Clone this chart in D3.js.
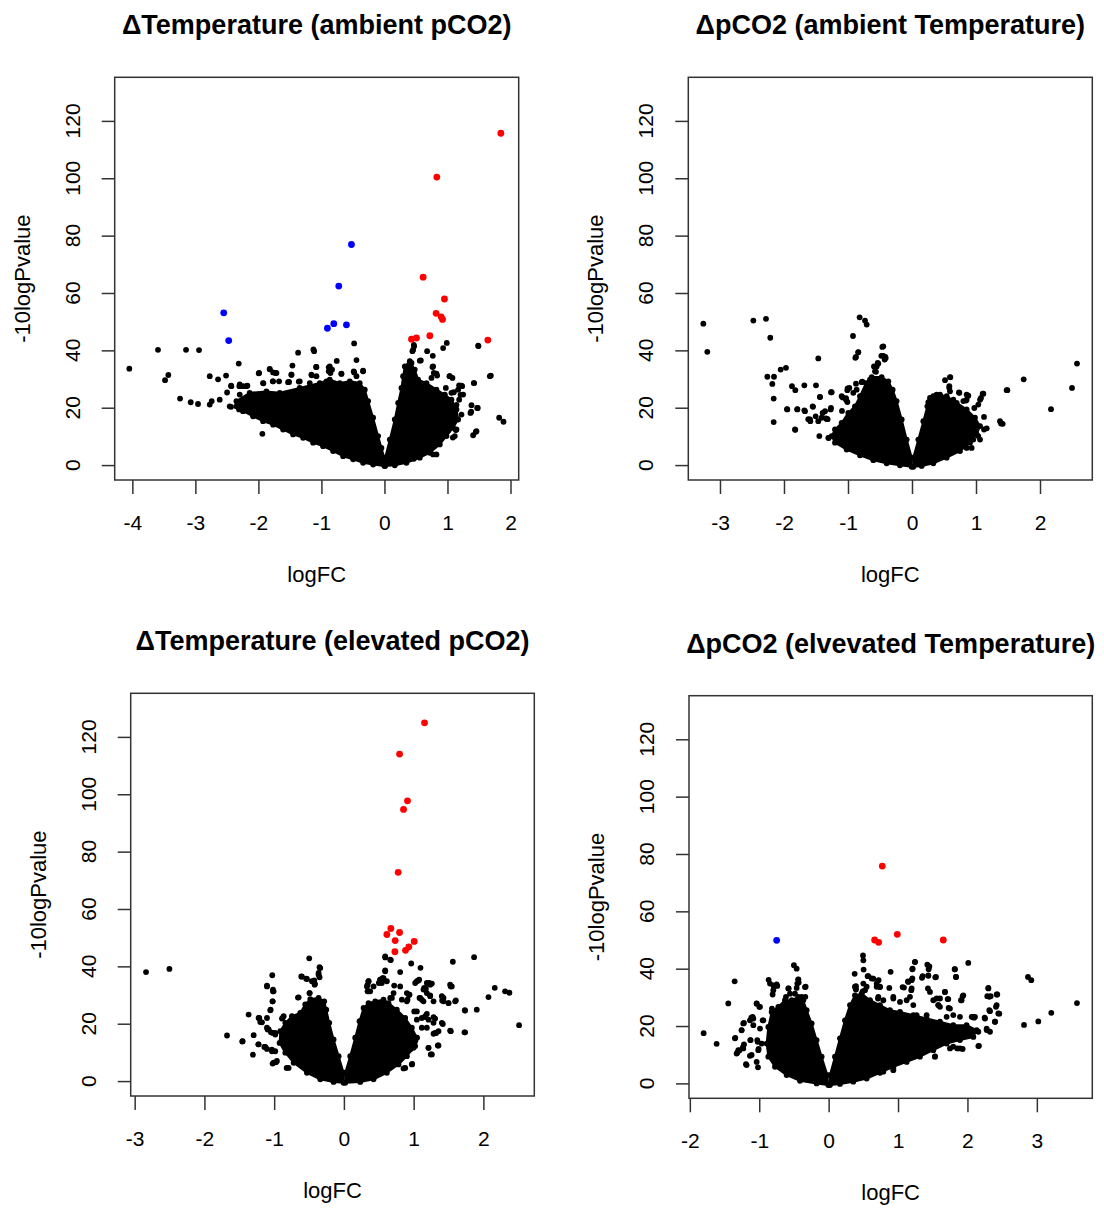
<!DOCTYPE html>
<html><head><meta charset="utf-8">
<script src="https://cdn.jsdelivr.net/npm/d3@7"></script>
<style>
body{margin:0;background:#fff}
svg{display:block}
text{font-family:"Liberation Sans",Arial,Helvetica,sans-serif;fill:#000}
</style>
</head><body>
<svg id="chart" width="1104" height="1209"></svg>
<script>
// ---------------- DATA ----------------
const titles = ["\u0394Temperature (ambient pCO2)", "\u0394pCO2 (ambient Temperature)",
                "\u0394Temperature (elevated pCO2)", "\u0394pCO2 (elvevated Temperature)"];
const xLabel = "logFC";
const yLabel = "-10logPvalue";
const xTicks1 = [-4,-3,-2,-1,0,1,2];
const xTicks2 = [-3,-2,-1,0,1,2];
const xTicks3 = [-3,-2,-1,0,1,2];
const xTicks4 = [-2,-1,0,1,2,3];
const yTicks = [0,20,40,60,80,100,120];

// Panel 1: ΔTemperature (ambient pCO2)
const p1Up = [[1.847,115.7],[0.831,100.4],[0.614,65.5],[0.952,57.9],[0.820,52.9],[0.899,51.7],[0.921,50.8],[0.720,45.1],[0.429,43.9],[0.508,44.3],[1.640,43.6]];
const p1Down = [[-0.524,76.9],[-0.725,62.4],[-2.550,53.1],[-2.471,43.4],[-0.905,47.7],[-0.804,49.3],[-0.603,48.9]];
const p1CloudL = [[-0.005,2.6],[-0.048,6.0],[-0.101,10.1],[-0.180,16.5],[-0.259,22.3],[-0.312,26.3],[-0.392,28.6],[-0.550,29.2],[-0.709,28.6],[-0.868,29.8],[-1.026,28.6],[-1.344,26.9],[-1.661,25.2],[-1.873,25.7],[-2.138,25.2],[-2.349,22.3],[-2.349,20.5],[-2.243,18.8],[-2.085,17.0],[-1.926,15.3],[-1.767,14.1],[-1.608,12.4],[-1.450,10.7],[-1.291,9.5],[-1.132,7.8],[-0.974,6.6],[-0.815,4.9],[-0.656,3.1],[-0.497,2.0],[-0.339,0.8],[-0.180,0.2],[0,-0.3]];
const p1CloudR = [[0.011,2.6],[0.085,8.9],[0.164,15.9],[0.217,21.7],[0.270,26.9],[0.296,31.0],[0.323,34.4],[0.402,36.2],[0.481,33.3],[0.534,29.8],[0.667,28.6],[0.825,26.3],[0.958,24.6],[1.063,22.8],[1.143,19.4],[1.169,15.9],[1.090,13.0],[0.984,10.1],[0.878,7.2],[0.720,4.3],[0.561,2.6],[0.349,0.8],[0.164,-0.1],[0.011,-0.3]];
const p1Other = [[-4.048,33.6],[-3.593,40.2],[-3.481,29.6],[-3.429,31.4],[-3.148,40.2],[-2.942,40.1],[-3.243,23.2],[-3.074,21.9],[-2.958,21.3],[-2.772,31.0],[-2.640,29.9],[-2.513,31.2],[-2.312,35.4],[-2.497,25.3],[-2.434,27.7],[-2.614,22.8],[-2.741,22.3],[-2.772,21.1],[-2.434,20.3],[-2.302,27.5],[-2.175,27.7],[-2.333,21.7],[-1.995,32.0],[-1.921,28.5],[-1.820,33.4],[-1.730,32.1],[-1.772,29.2],[-1.672,29.2],[-1.513,29.0],[-1.476,31.5],[-1.460,34.7],[-1.370,39.2],[-1.360,29.1],[-1.127,40.3],[-1.116,39.7],[-1.085,34.2],[-1.153,31.3],[-0.884,34.1],[-0.857,32.1],[-0.757,36.3],[-0.683,31.8],[-0.481,42.4],[-0.444,36.6],[-0.339,32.9],[-0.481,32.3],[-1.937,10.9],[-2.164,19.4],[-2.243,18.9],
  [-0.868,34.4],[-0.884,32.7],[-0.831,33.3],[-0.683,31.9],[-1.079,34.2],[-1.476,31.5],[-1.820,33.5],[-1.767,32.3],[-1.989,32.1],[-1.714,32.1],[-1.926,28.6],[-1.767,29.2],[-1.529,28.9],[-1.344,29.2],[-1.185,28.6],[-1.079,31.0],[-0.921,29.2],[-1.159,31.5],[-2.429,27.5],[-2.296,28.1],[-2.243,27.5],[-2.190,27.5],[-2.296,24.6],[-2.455,20.5],[-2.307,19.4],[-2.217,19.4],[-0.339,32.7],[-0.487,32.7],[-0.444,31.0],
  [0.466,41.9],[0.444,39.7],[0.561,36.4],[0.677,39.7],[0.767,38.1],[0.931,40.8],[0.989,42.6],[0.762,34.2],[0.825,31.9],[1.032,31.0],[1.079,30.4],[1.185,27.8],[1.222,27.7],[1.423,28.6],[1.688,31.2],[1.492,41.5],[1.101,25.4],[1.206,24.5],[1.381,20.9],[1.481,19.9],[1.376,18.6],[1.143,21.0],[1.222,17.6],[1.132,12.2],[1.085,9.6],[1.407,10.4],[1.450,11.6],[1.820,16.5],[1.889,15.1],[0.942,17.0],[0.825,3.7],[0.466,2.2],
  [0.455,40.2],[0.471,41.4],[0.577,36.5],[0.429,35.6],[0.772,34.4],[0.783,32.1],[0.836,31.2],[0.746,30.4],[1.037,31.0],[0.974,26.9],[1.169,26.3],[1.233,27.5],[1.063,25.2],[1.249,24.6],[1.185,22.8],[1.418,28.6],[1.487,41.6],[1.672,31.0],[1.471,19.9],[1.365,18.2],[1.143,12.4],[1.116,10.1],[1.460,11.8],[0.931,10.1],[0.772,3.7],[1.037,17.6]];

// Panel 2: ΔpCO2 (ambient Temperature)
const p2Up = [];
const p2Down = [];
const p2CloudL = [[-0.005,2.6],[-0.083,8.9],[-0.161,15.9],[-0.240,22.3],[-0.302,26.3],[-0.370,29.2],[-0.474,30.7],[-0.630,30.7],[-0.719,28.6],[-0.813,24.0],[-0.891,20.5],[-0.995,18.2],[-1.099,14.7],[-1.203,12.4],[-1.255,10.1],[-1.203,7.8],[-1.021,5.4],[-0.813,3.4],[-0.604,1.7],[-0.396,0.6],[-0.188,-0.1],[-0.005,-0.6]];
const p2CloudR = [[0.021,2.6],[0.099,8.9],[0.177,15.3],[0.240,20.5],[0.281,23.4],[0.385,24.6],[0.542,24.0],[0.698,21.7],[0.854,19.4],[0.984,16.5],[1.063,13.6],[1.010,10.7],[0.906,7.8],[0.750,4.9],[0.542,2.6],[0.333,0.6],[0.151,-0.3],[0.021,-0.6]];
const p2Other = [[-3.260,49.3],[-3.198,39.5],[-2.479,50.4],[-2.281,51.0],[-2.214,44.4],[-2.260,30.8],[-2.156,30.8],[-2.182,28.3],[-2.161,23.2],[-2.161,15.0],[-2.052,33.3],[-1.969,33.9],[-1.953,19.5],[-1.875,27.5],[-1.823,26.1],[-1.823,12.3],[-1.792,19.5],[-1.682,19.1],[-1.682,27.8],[-1.620,16.0],[-1.589,15.3],[-1.547,20.3],[-1.505,17.0],[-1.500,27.8],[-1.464,37.2],[-1.448,10.1],[-1.438,23.7],[-1.396,18.2],[-1.344,16.3],[-1.318,16.0],[-1.266,25.4],[-1.266,19.9],[-1.302,9.4],[-1.094,18.9],[-1.083,23.6],[-1.031,23.3],[-1.005,26.7],[-1.010,22.0],[-0.922,45.0],[-0.885,37.4],[-0.839,39.4],[-0.875,28.4],[-0.776,29.1],[-0.818,51.5],[-0.734,50.4],[-0.708,49.0],[-0.594,34.4],[-0.563,32.5],[-0.536,35.6],[-0.479,38.1],[-0.464,41.2],[-0.427,36.8],[-0.411,37.3],[-0.500,30.0],[-0.656,29.8],
  [-0.448,41.4],[-0.448,38.1],[-0.417,37.7],[-0.526,35.4],[-0.552,34.4],[-0.578,32.7],[-0.839,39.3],[-0.875,37.7],[-0.630,29.2],[-0.786,28.9],[-0.979,26.9],[-1.010,26.1],[-1.255,25.4],[-1.099,24.0],[-1.031,22.8],[-0.917,25.2],[-0.865,26.3],[-1.271,19.4],[-1.333,16.1],[-1.359,18.8],[-1.438,23.8],[-1.411,16.5],[-1.464,15.3],[-1.552,20.5],[-1.672,18.8],[-1.594,15.9],[-1.792,19.4],[-1.948,19.4],[-1.307,9.5],[-1.828,12.4],
  [0.516,29.6],[0.599,30.6],[0.583,26.9],[0.734,25.3],[0.854,24.6],[0.844,22.5],[1.115,24.9],[1.078,23.4],[1.036,21.1],[0.974,19.9],[0.750,18.8],[1.125,16.8],[1.167,12.8],[1.125,12.4],[1.036,10.1],[0.958,8.9],[1.391,14.5],[1.417,14.4],[1.490,26.1],[1.745,29.9],[2.172,19.5],[2.500,26.9],[2.578,35.4],[0.349,23.7],[0.255,21.9],[0.438,24.6],[0.542,23.4],[0.646,22.8],[0.802,13.6],[0.854,11.8],[0.906,10.1],
  [0.594,30.7],[0.583,27.5],[0.594,25.7],[0.740,25.2],[0.802,22.3],[0.880,24.2],[0.854,22.8],[1.104,24.9],[1.063,22.8],[0.776,18.8],[0.896,16.5],[0.958,14.1],[1.000,13.6],[1.375,15.3],[1.479,26.1],[0.620,15.3],[0.646,11.8],[0.776,6.6],[0.854,6.0],[0.932,6.0],[1.063,8.9],[0.359,22.8],[0.333,24.0]];

// Panel 3: ΔTemperature (elevated pCO2)
const p3Up = [[1.156,124.9],[0.798,114.0],[0.912,97.7],[0.855,94.7],[0.778,72.8],[0.673,53.2],[0.616,51.1],[0.798,51.8],[0.735,49.0],[1.008,48.7],[0.931,46.8],[0.883,45.6],[0.731,45.1]];
const p3Down = [];
const p3CloudL = [[-0.005,2.9],[-0.076,8.7],[-0.148,14.5],[-0.210,20.3],[-0.253,24.9],[-0.282,27.8],[-0.363,29.0],[-0.482,28.6],[-0.554,26.7],[-0.626,23.8],[-0.745,22.6],[-0.840,20.3],[-0.912,17.4],[-0.922,13.3],[-0.840,9.9],[-0.721,6.4],[-0.530,2.9],[-0.339,0.6],[-0.148,-0.3],[-0.005,-0.6]];
const p3CloudR = [[0.019,2.9],[0.091,8.7],[0.162,15.1],[0.224,20.9],[0.282,25.5],[0.353,27.2],[0.449,27.8],[0.568,28.4],[0.640,27.2],[0.759,24.9],[0.879,22.0],[0.974,18.6],[1.046,15.1],[0.998,11.6],[0.903,8.7],[0.783,5.8],[0.616,2.9],[0.425,0.6],[0.234,-0.3],[0.019,-0.6]];
const p3Other = [[-2.837,38.0],[-2.502,39.1],[-1.676,15.9],[-1.457,13.8],[-1.304,9.2],[-1.294,16.0],[-1.366,23.2],[-1.223,22.0],[-1.199,20.6],[-1.227,12.8],[-1.127,11.9],[-1.103,11.2],[-1.103,33.0],[-1.027,36.9],[-1.017,31.9],[-1.008,31.3],[-1.022,27.8],[-1.051,24.9],[-1.103,18.6],[-1.079,18.0],[-1.017,16.8],[-0.984,16.2],[-1.032,10.4],[-1.008,6.4],[-0.960,7.0],[-0.879,22.0],[-0.864,22.6],[-0.821,4.6],[-0.659,29.1],[-0.602,36.4],[-0.540,35.7],[-0.497,42.8],[-0.425,35.1],[-0.415,33.9],[-0.349,36.2],[-0.339,39.4],[-0.492,30.7],[-0.363,37.7],
  [-0.349,39.7],[-0.363,37.1],[-0.611,36.5],[-0.530,35.6],[-0.458,34.8],[-0.420,33.6],[-1.103,33.3],[-1.017,31.3],[-1.022,27.8],[-0.649,29.2],[-0.492,30.7],[-0.473,27.8],[-1.213,22.0],[-1.175,20.5],[-1.055,24.7],[-1.103,22.0],[-0.888,21.8],[-1.094,18.0],[-1.046,17.0],[-0.984,16.8],[-1.452,13.9],[-1.223,12.8],[-1.141,11.9],[-1.032,11.0],[-0.984,10.4],[-1.022,6.1],[-0.974,6.6],[-0.793,4.6],
  [0.592,43.1],[0.673,42.2],[0.592,38.6],[0.807,38.0],[0.965,41.0],[1.098,39.5],[0.721,33.3],[0.554,35.9],[0.521,35.4],[0.501,34.2],[0.353,34.8],[0.339,33.6],[0.353,31.3],[0.664,29.0],[1.046,34.8],[1.079,35.4],[1.189,34.2],[1.237,33.6],[1.175,32.2],[1.141,31.9],[1.237,29.9],[0.931,30.1],[0.912,28.4],[1.084,29.0],[1.117,28.4],[1.428,29.0],[1.409,28.1],[1.523,33.6],[1.533,33.0],[1.562,41.6],[1.867,43.2],[1.605,28.1],[1.500,27.2],[1.734,24.7],[1.905,24.9],[2.073,29.3],[2.163,32.5],[2.311,31.3],[2.373,30.8],[2.512,19.5],[1.729,17.0],[1.533,17.4],[1.418,19.9],[1.308,21.8],[1.285,22.3],[1.189,23.4],[1.165,22.3],[1.008,24.3],[1.046,21.4],[1.189,18.6],[1.117,18.6],[1.323,16.8],[1.285,16.5],[1.347,12.4],[1.213,11.6],[1.261,9.3],[0.979,6.0],[0.855,4.4],[1.046,15.1],[1.022,13.9],
  [0.592,43.5],[0.664,42.3],[0.592,38.3],[0.568,35.9],[0.544,34.2],[0.353,34.8],[0.330,33.0],[0.377,31.3],[0.339,31.3],[1.022,34.2],[1.070,35.1],[1.223,34.2],[1.261,34.0],[1.151,32.5],[1.189,30.7],[1.094,29.0],[1.141,27.8],[0.941,30.1],[0.903,27.8],[1.547,33.0],[1.404,29.6],[1.428,27.8],[1.500,27.2],[1.595,27.8],[1.738,24.6],[1.237,29.6],[1.285,27.8],[1.046,24.3],[1.117,22.0],[1.165,22.6],[1.213,21.4],[1.285,20.3],[1.356,17.4],[1.308,16.8],[1.404,20.3],[1.523,17.6],[1.738,17.0],[1.213,11.6],[1.246,9.3],[1.356,12.4],[0.950,11.0],[1.022,12.2],[0.974,5.8],[0.879,4.6],
  [0.712,30.7],[0.688,29.0],[0.807,33.0],[0.903,30.7],[0.831,28.4],[0.521,35.4],[0.425,33.0],[0.616,34.8]];

// Panel 4: ΔpCO2 (elvevated Temperature)
const p4Up = [[0.773,75.8],[0.663,50.0],[0.720,49.2],[0.989,52.0],[1.652,50.0]];
const p4Down = [[-0.749,49.9]];
const p4CloudL = [[-0.019,2.9],[-0.101,9.3],[-0.173,15.1],[-0.245,20.9],[-0.317,25.5],[-0.365,29.0],[-0.437,30.2],[-0.533,29.0],[-0.629,29.0],[-0.725,26.7],[-0.821,24.9],[-0.869,19.7],[-0.893,13.9],[-0.869,9.3],[-0.773,5.8],[-0.605,2.9],[-0.413,0.9],[-0.173,0.0],[-0.005,-0.6]];
const p4CloudR = [[0.019,2.9],[0.091,9.3],[0.163,15.7],[0.235,22.0],[0.307,27.3],[0.379,30.7],[0.476,31.3],[0.596,29.0],[0.740,27.3],[0.884,25.5],[1.028,24.9],[1.220,23.8],[1.412,22.6],[1.604,21.5],[1.796,20.3],[1.988,20.3],[2.133,18.6],[2.085,16.2],[1.892,15.1],[1.700,13.9],[1.508,11.6],[1.316,9.3],[1.124,7.5],[0.932,5.8],[0.740,3.7],[0.548,1.7],[0.355,0.6],[0.163,-0.2],[0.019,-0.6]];
const p4Other = [[-1.801,17.5],[-1.614,13.8],[-1.446,27.9],[-1.354,35.6],[-1.345,15.9],[-1.316,10.7],[-1.287,11.5],[-1.254,18.5],[-1.234,12.6],[-1.220,13.6],[-1.191,6.7],[-1.134,9.6],[-1.129,15.1],[-1.114,22.9],[-1.095,23.2],[-1.230,20.9],[-1.037,27.9],[-0.999,26.7],[-1.018,5.6],[-1.023,14.5],[-1.009,12.0],[-0.951,22.0],[-0.865,36.1],[-0.845,34.8],[-0.788,33.7],[-0.740,34.0],[-0.807,31.0],[-0.615,30.2],[-0.576,33.1],[-0.500,41.2],[-0.461,40.0],[-0.437,36.3],[-0.432,35.2],[-0.461,33.3],[-0.331,33.7],[-0.336,30.2],[-0.817,26.1],[-0.797,24.4],
  [-0.437,36.2],[-0.451,34.8],[-0.341,33.6],[-0.797,34.2],[-0.749,34.5],[-0.797,32.5],[-0.581,33.1],[-0.557,31.3],[-0.485,31.3],[-0.389,30.2],[-1.037,27.8],[-0.989,26.7],[-1.220,21.1],[-1.134,22.0],[-1.085,22.6],[-0.941,22.0],[-0.989,19.1],[-1.085,20.3],[-1.254,18.6],[-1.350,15.7],[-1.230,12.2],[-1.302,11.6],[-1.326,10.4],[-1.182,6.4],[-1.110,9.9],[-1.013,11.6],[-1.037,7.5],[-1.124,15.1],[-1.028,15.1],[-0.965,13.9],
  [0.495,44.6],[0.500,42.9],[0.504,39.7],[0.375,38.2],[0.562,37.4],[0.620,36.6],[0.720,36.0],[0.893,38.9],[0.692,33.7],[0.740,33.7],[0.389,33.1],[0.379,33.7],[0.490,32.1],[0.548,33.7],[0.711,29.6],[0.874,33.3],[0.932,29.6],[1.085,33.4],[1.143,35.6],[1.206,36.6],[1.206,39.8],[1.244,42.4],[1.345,36.8],[1.436,37.5],[1.537,37.0],[1.422,41.4],[1.441,39.8],[1.431,33.1],[1.191,32.5],[1.172,30.2],[1.556,29.6],[1.580,27.3],[1.676,31.9],[1.724,29.4],[1.816,39.8],[1.835,37.1],[2.012,42.0],[1.931,30.4],[1.907,29.0],[1.729,26.3],[1.700,23.2],[2.301,33.3],[2.286,30.4],[2.334,30.4],[2.430,31.0],[2.411,26.7],[2.325,25.2],[2.459,24.3],[2.397,21.5],[2.277,19.1],[2.248,22.9],[2.075,23.2],[2.094,22.9],[2.166,13.1],[2.872,37.1],[2.920,36.0],[2.815,20.4],[3.021,21.6],[3.208,24.6],[3.578,28.0],[1.748,12.2],[1.854,12.2],[1.931,12.0],[1.532,9.4],[0.932,4.6],[0.788,4.1],
  [0.572,37.4],[0.644,36.5],[0.692,34.8],[0.740,33.6],[0.394,33.9],[0.394,32.7],[0.500,34.8],[0.524,32.5],[1.066,33.6],[1.148,35.4],[1.196,36.0],[1.196,33.1],[1.210,40.0],[1.244,42.3],[1.354,37.4],[1.436,37.7],[1.451,40.8],[1.547,37.1],[1.820,39.8],[1.835,37.1],[1.460,31.9],[1.508,29.0],[1.580,27.3],[1.604,26.7],[1.676,31.9],[1.715,29.4],[1.748,26.1],[1.916,29.0],[1.940,30.7],[1.796,23.8],[1.892,23.2],[2.061,23.2],[2.109,23.2],[2.301,33.1],[2.315,30.2],[2.421,31.0],[2.315,25.5],[2.421,27.3],[2.445,24.4],[2.253,22.6],[2.397,21.5],[2.277,18.6],[2.157,18.0],[2.325,18.0],[2.157,13.0],[1.892,12.2],[1.796,12.8],[1.748,15.1],[1.532,9.3],[0.932,5.2],[0.884,6.4],[1.268,23.8],[1.412,23.8],[1.340,19.1],[1.508,19.7],[1.124,29.0],[1.220,27.3],[1.604,29.6],[0.716,30.2],[0.788,29.0],[0.932,30.2],[1.028,28.4]];

// ---------------- LAYOUT ----------------
const panels = [
  {title:titles[0], xTicks:xTicks1, up:p1Up, down:p1Down, other:p1Other, clouds:[p1CloudL,p1CloudR],
   box:{x0:114.7,x1:518.7,y0:77.3,y1:480}, xDomain:[-4.28,2.13]},
  {title:titles[1], xTicks:xTicks2, up:p2Up, down:p2Down, other:p2Other, clouds:[p2CloudL,p2CloudR],
   box:{x0:688.3,x1:1092.3,y0:77.3,y1:480}, xDomain:[-3.495,2.817]},
  {title:titles[2], xTicks:xTicks3, up:p3Up, down:p3Down, other:p3Other, clouds:[p3CloudL,p3CloudR],
   box:{x0:130.7,x1:534.3,y0:693.3,y1:1096}, xDomain:[-3.057,2.73]},
  {title:titles[3], xTicks:xTicks4, up:p4Up, down:p4Down, other:p4Other, clouds:[p4CloudL,p4CloudR],
   box:{x0:689,x1:1092.3,y0:695.7,y1:1098.3}, xDomain:[-2.012,3.799]}
];
const yDomain = [-5.2, 135.2];

const svg = d3.select("#chart");
svg.append("rect").attr("width",1104).attr("height",1209).attr("fill","#fff");

panels.forEach(p => {
  const b = p.box;
  const x = d3.scaleLinear().domain(p.xDomain).range([b.x0, b.x1]);
  const y = d3.scaleLinear().domain(yDomain).range([b.y1, b.y0]);
  const g = svg.append("g");

  // dense clouds (outline of the overplotted region)
  const line = d3.line().x(d => x(d[0])).y(d => y(d[1])).curve(d3.curveLinearClosed);
  g.selectAll("path.cloud").data(p.clouds).join("path")
    .attr("class","cloud").attr("d", line)
    .attr("fill","#000").attr("stroke","#000").attr("stroke-width",2).attr("stroke-linejoin","round");
  g.selectAll("circle.cv").data(p.clouds.flat()).join("circle")
    .attr("class","cv").attr("cx", d => x(d[0])).attr("cy", d => y(d[1])).attr("r", 2.9).attr("fill","#000");

  // scattered black points
  g.selectAll("circle.o").data(p.other).join("circle")
    .attr("class","o").attr("cx", d => x(d[0])).attr("cy", d => y(d[1])).attr("r", 2.9).attr("fill","#000");
  // significant points
  g.selectAll("circle.dn").data(p.down).join("circle")
    .attr("class","dn").attr("cx", d => x(d[0])).attr("cy", d => y(d[1])).attr("r", 3.4).attr("fill","#0000ff");
  g.selectAll("circle.up").data(p.up).join("circle")
    .attr("class","up").attr("cx", d => x(d[0])).attr("cy", d => y(d[1])).attr("r", 3.4).attr("fill","#ff0000");

  // box
  g.append("rect").attr("x",b.x0).attr("y",b.y0).attr("width",b.x1-b.x0).attr("height",b.y1-b.y0)
    .attr("fill","none").attr("stroke","#333").attr("stroke-width",1.5);

  // x axis
  const xa = g.append("g").attr("transform",`translate(0,${b.y1})`)
    .call(d3.axisBottom(x).tickValues(p.xTicks).tickSize(14).tickPadding(21).tickFormat(d => String(d)));
  xa.select(".domain").remove();
  xa.selectAll(".tick line").attr("stroke","#333").attr("stroke-width",1.5);
  xa.selectAll(".tick text").attr("font-size",21).attr("font-family","Liberation Sans, Arial, sans-serif").attr("fill","#000");

  // y axis (ticks, labels rotated parallel to axis)
  const ya = g.append("g").attr("transform",`translate(${b.x0},0)`)
    .call(d3.axisLeft(y).tickValues(yTicks).tickSize(13).tickFormat(""));
  ya.select(".domain").remove();
  ya.selectAll(".tick line").attr("stroke","#333").attr("stroke-width",1.5);
  g.selectAll("text.yt").data(yTicks).join("text").attr("class","yt")
    .attr("transform", d => `translate(${b.x0-35},${y(d)}) rotate(-90)`)
    .attr("text-anchor","middle").attr("font-size",21).text(d => String(d));

  // titles and axis labels
  const cx = (b.x0+b.x1)/2, cy = (b.y0+b.y1)/2;
  g.append("text").attr("x",cx).attr("y",b.y0-43).attr("text-anchor","middle")
    .attr("font-size",27).attr("font-weight","bold").text(p.title);
  g.append("text").attr("x",cx).attr("y",b.y1+102).attr("text-anchor","middle")
    .attr("font-size",22).text(xLabel);
  g.append("text").attr("transform",`translate(${b.x0-85},${cy}) rotate(-90)`).attr("text-anchor","middle")
    .attr("font-size",22).text(yLabel);
});
</script>
</body></html>
